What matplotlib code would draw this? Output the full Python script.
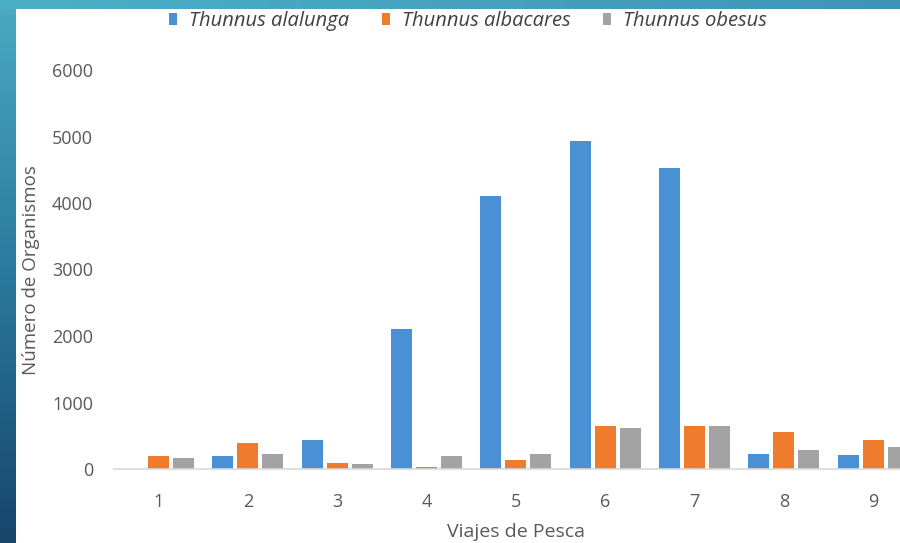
import numpy as np
import matplotlib.pyplot as plt
from matplotlib.colors import LinearSegmentedColormap

viajes = [1, 2, 3, 4, 5, 6, 7, 8, 9]
alalunga = [0, 195, 435, 2105, 4105, 4930, 4525, 230, 215]
albacares = [195, 390, 90, 30, 135, 645, 645, 555, 435]
obesus = [165, 225, 80, 195, 225, 610, 650, 290, 335]

series_names = ["Thunnus alalunga", "Thunnus albacares", "Thunnus obesus"]
colors = ["#4a90d4", "#ef7b2c", "#a3a3a3"]

plt.rcParams['font.family'] = ['Open Sans', 'DejaVu Sans']

fig = plt.figure(figsize=(9, 5.43), dpi=100)

# decorative slide frame (left and top strips)
left = fig.add_axes([0, 0, 16 / 900, 1])
grad = np.linspace(0, 1, 256).reshape(-1, 1)
cmap_l = LinearSegmentedColormap.from_list("l", ["#4aaac3", "#2a7a9e", "#17456c"])
left.imshow(grad, aspect="auto", cmap=cmap_l, extent=[0, 1, 0, 1], origin="upper")
left.axis("off")

top = fig.add_axes([0, 1 - 9 / 543, 1, 9 / 543])
cmap_t = LinearSegmentedColormap.from_list("t", ["#4bb0c6", "#3f95b6"])
top.imshow(grad.T, aspect="auto", cmap=cmap_t, extent=[0, 1, 0, 1])
top.axis("off")

ax = fig.add_axes([114 / 900, 74 / 543, 786 / 900, 399 / 543])

x = np.array(viajes, dtype=float)
w = 0.235
step = 0.28
ax.bar(x - step, alalunga, w, color=colors[0], label=series_names[0])
ax.bar(x, albacares, w, color=colors[1], label=series_names[1])
ax.bar(x + step, obesus, w, color=colors[2], label=series_names[2])

ax.set_xlim(0.5, 9.3)
ax.set_ylim(0, 6000)
ax.set_yticks(range(0, 6001, 1000))
ax.set_xticks(viajes)

for s in ["top", "right", "left"]:
    ax.spines[s].set_visible(False)
ax.spines["bottom"].set_color("#d9d9d9")
ax.spines["bottom"].set_linewidth(1.2)
ax.tick_params(axis="both", length=0, colors="#595959", labelsize=13)
ax.tick_params(axis="y", pad=15)
ax.tick_params(axis="x", pad=17)

fig.text(31 / 900, 1 - 270 / 543, "Número de Organismos", rotation=90,
         ha="center", va="center", fontsize=13.5, color="#595959")
fig.text(516 / 900, 1 - 532 / 543, "Viajes de Pesca",
         ha="center", va="center", fontsize=14, color="#595959")

leg = fig.legend(loc="center", bbox_to_anchor=(468 / 900, 1 - 21 / 543), ncol=3,
                 frameon=False, handlelength=0.4, handleheight=0.6,
                 handletextpad=0.6, columnspacing=1.6,
                 prop={"style": "italic", "size": 14.5})
for t in leg.get_texts():
    t.set_color("#404040")

fig.savefig("out.png", dpi=100)
